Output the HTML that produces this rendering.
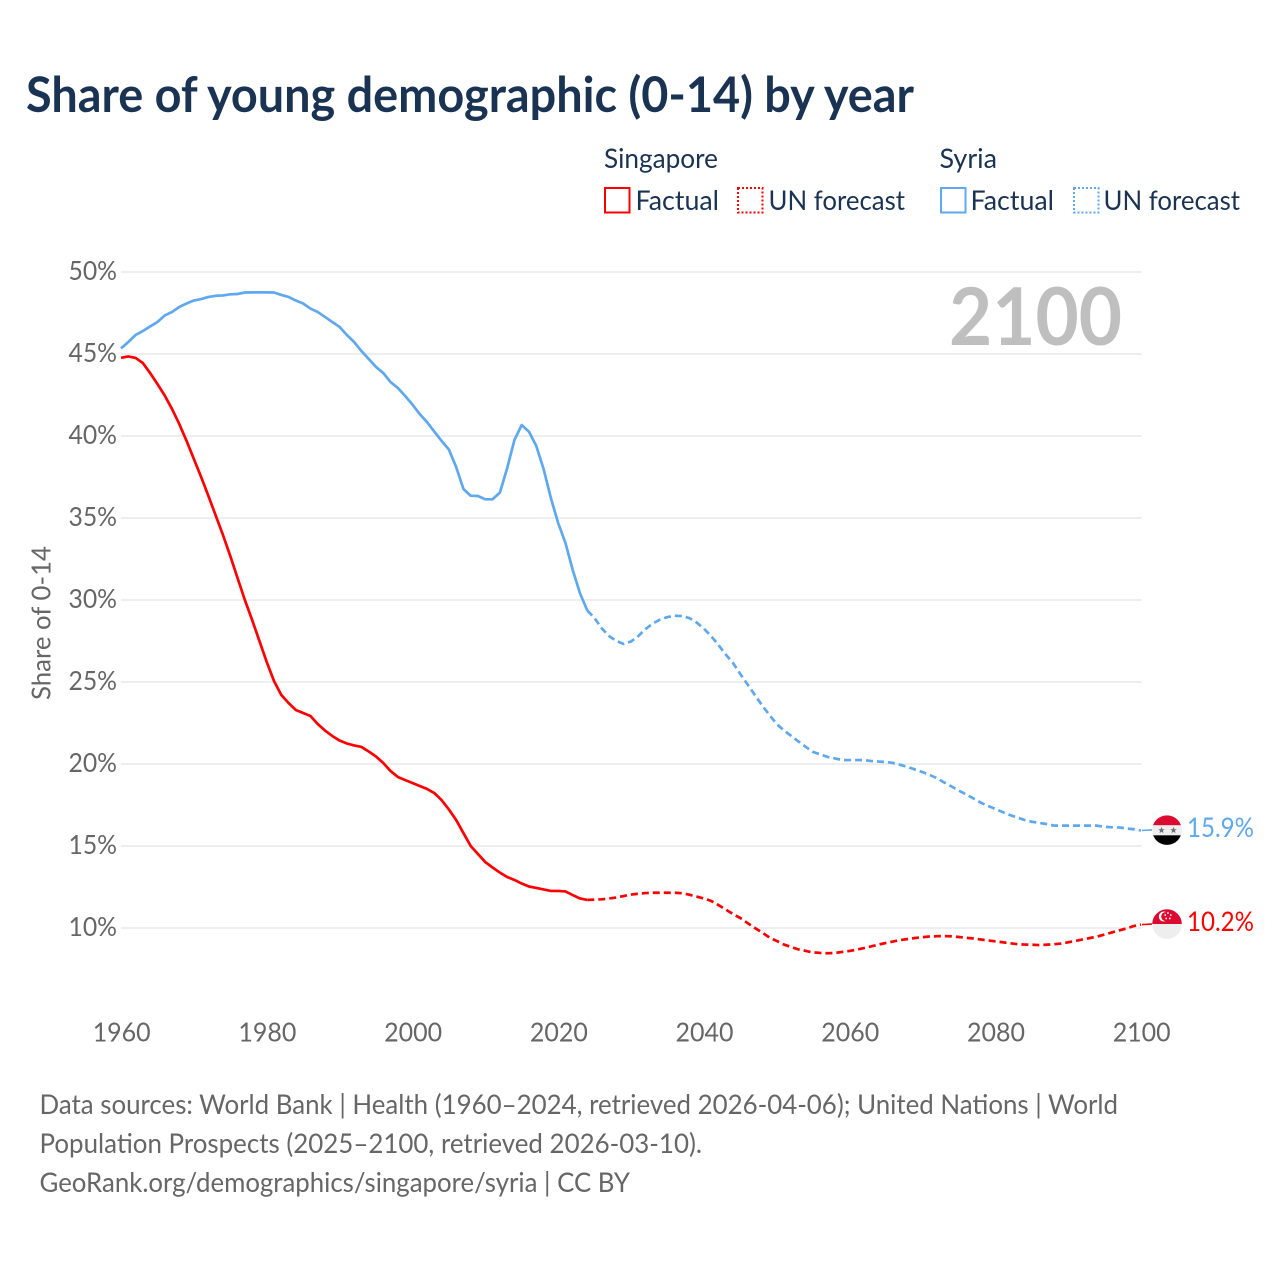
<!DOCTYPE html>
<html lang="en">
<head>
<meta charset="utf-8">
<title>Share of young demographic (0-14) by year</title>
<style>
html,body{margin:0;padding:0;background:#fff;}
svg{display:block;}
text{font-family:"Lato","Carlito","Liberation Sans",sans-serif;}
</style>
</head>
<body>
<svg id="chart" xmlns="http://www.w3.org/2000/svg" width="1280" height="1280" viewBox="0 0 1280 1280">
  <rect x="0" y="0" width="1280" height="1280" fill="#ffffff"/>
  <text x="26" y="112" font-size="48.5" font-weight="700" fill="#1a3353" textLength="888" lengthAdjust="spacingAndGlyphs">Share of young demographic (0-14) by year</text>

  <g font-size="27" fill="#1a3353">
    <text x="604" y="168" textLength="114" lengthAdjust="spacingAndGlyphs">Singapore</text>
    <rect x="605" y="188" width="24.5" height="24.5" fill="none" stroke="#ff0000" stroke-width="2"/>
    <text x="635.5" y="210" textLength="83.5" lengthAdjust="spacingAndGlyphs">Factual</text>
    <rect x="738" y="188" width="24.5" height="24.5" fill="none" stroke="#ff0000" stroke-width="2" stroke-dasharray="2 2"/>
    <text x="768.5" y="210" textLength="136.5" lengthAdjust="spacingAndGlyphs">UN forecast</text>
    <text x="939.5" y="168" textLength="57.5" lengthAdjust="spacingAndGlyphs">Syria</text>
    <rect x="941" y="188" width="24.5" height="24.5" fill="none" stroke="#5fa8ee" stroke-width="2"/>
    <text x="970.5" y="210" textLength="83.5" lengthAdjust="spacingAndGlyphs">Factual</text>
    <rect x="1074" y="188" width="24.5" height="24.5" fill="none" stroke="#5fa8ee" stroke-width="2" stroke-dasharray="2 2"/>
    <text x="1103.5" y="210" textLength="136.5" lengthAdjust="spacingAndGlyphs">UN forecast</text>
  </g>

  <g id="grid"></g>
  <g id="yticks"></g>
  <g id="xticks"></g>

  <text x="0" y="0" transform="translate(50.5,623) rotate(-90)" text-anchor="middle" font-size="26" fill="#666666" textLength="154" lengthAdjust="spacingAndGlyphs">Share of 0-14</text>
  <text x="949" y="345" font-size="80" font-weight="700" fill="#bfbfbf" textLength="173" lengthAdjust="spacingAndGlyphs">2100</text>

  <g id="series"></g>
  <g id="ends"></g>

  <g font-size="27" fill="#666666">
    <text x="39.5" y="1114" textLength="1078.5" lengthAdjust="spacingAndGlyphs">Data sources: World Bank | Health (1960–2024, retrieved 2026-04-06); United Nations | World</text>
    <text x="39.5" y="1153" textLength="662.5" lengthAdjust="spacingAndGlyphs">Population Prospects (2025–2100, retrieved 2026-03-10).</text>
    <text x="39.5" y="1192" textLength="590.5" lengthAdjust="spacingAndGlyphs">GeoRank.org/demographics/singapore/syria | CC BY</text>
  </g>
</svg>
<script>
const firstYear = 1960;
const lastFactualYear = 2024;
const yTickValues = [10, 15, 20, 25, 30, 35, 40, 45, 50];
const xTickValues = [1960, 1980, 2000, 2020, 2040, 2060, 2080, 2100];

// Yearly share of population aged 0-14 (%), 1960-2100.
const singaporeValues = [
44.77,44.85,44.76,44.45,43.84,43.17,42.47,41.65,40.73,39.70,
38.60,37.50,36.34,35.15,33.96,32.68,31.34,30.00,28.78,27.50,
26.22,25.06,24.21,23.72,23.29,23.11,22.93,22.44,22.04,21.71,
21.43,21.25,21.13,21.04,20.76,20.46,20.06,19.57,19.21,19.02,
18.84,18.66,18.48,18.23,17.80,17.23,16.59,15.79,15.00,14.51,
14.02,13.69,13.38,13.11,12.93,12.71,12.53,12.44,12.35,12.26,
12.26,12.23,12.01,11.80,11.71,11.73,11.75,11.80,11.86,11.95,
12.04,12.09,12.13,12.15,12.15,12.15,12.15,12.12,12.03,11.92,
11.80,11.65,11.40,11.13,10.85,10.61,10.30,10.00,9.73,9.42,
9.21,8.99,8.84,8.69,8.60,8.51,8.48,8.46,8.48,8.54,
8.60,8.68,8.78,8.88,8.99,9.09,9.18,9.27,9.33,9.39,
9.44,9.48,9.50,9.51,9.49,9.45,9.40,9.36,9.30,9.24,
9.19,9.13,9.07,9.02,8.99,8.98,8.96,8.98,9.01,9.05,
9.13,9.21,9.30,9.39,9.48,9.60,9.73,9.85,9.97,10.12,
10.21];

const syriaValues = [
45.34,45.73,46.16,46.40,46.68,46.95,47.35,47.56,47.87,48.08,
48.26,48.35,48.48,48.55,48.57,48.64,48.66,48.75,48.76,48.76,
48.76,48.75,48.60,48.48,48.26,48.08,47.77,47.56,47.26,46.95,
46.65,46.16,45.73,45.18,44.70,44.21,43.84,43.29,42.93,42.44,
41.92,41.34,40.85,40.27,39.70,39.18,38.11,36.77,36.36,36.34,
36.14,36.14,36.55,38.03,39.76,40.67,40.26,39.39,37.99,36.22,
34.70,33.48,31.83,30.41,29.36,28.90,28.26,27.80,27.50,27.32,
27.47,27.80,28.23,28.57,28.81,28.96,29.04,29.02,28.90,28.63,
28.26,27.80,27.26,26.68,26.16,25.49,24.85,24.21,23.57,22.99,
22.44,22.04,21.71,21.37,21.04,20.73,20.58,20.43,20.34,20.24,
20.24,20.24,20.24,20.18,20.15,20.12,20.06,19.94,19.82,19.66,
19.51,19.33,19.13,18.87,18.63,18.38,18.14,17.90,17.65,17.44,
17.26,17.07,16.89,16.74,16.59,16.48,16.41,16.34,16.25,16.24,
16.24,16.24,16.24,16.24,16.24,16.17,16.14,16.13,16.07,16.02,
15.95];

const SVG_NS = 'http://www.w3.org/2000/svg';
function xScale(year) { return 121 + (year - 1960) * (1020 / 140); }
function yScale(pct) { return 928 - (pct - 10) * 16.4; }
function make(tag, attrs, parent) {
  const el = document.createElementNS(SVG_NS, tag);
  for (const k in attrs) el.setAttribute(k, attrs[k]);
  parent.appendChild(el);
  return el;
}
function pointsFor(values, fromIdx, toIdx) {
  const pts = [];
  for (let i = fromIdx; i <= toIdx; i++) {
    pts.push(xScale(firstYear + i).toFixed(2) + ',' + yScale(values[i]).toFixed(2));
  }
  return pts.join(' ');
}

const gridG = document.getElementById('grid');
const yTicksG = document.getElementById('yticks');
const xTicksG = document.getElementById('xticks');
const seriesG = document.getElementById('series');
const endsG = document.getElementById('ends');

yTickValues.forEach(function (v) {
  const line = make('line', {x1: 121, x2: 1141.5, y1: yScale(v), y2: yScale(v), stroke: '#eeeeee', 'stroke-width': 2}, gridG);
  
  
  const label = make('text', {x: 117, y: yScale(v) + 8, 'text-anchor': 'end', 'font-size': 26, fill: '#666666', textLength: 48.5, lengthAdjust: 'spacingAndGlyphs'}, yTicksG);
  label.textContent = v + '%';
  
  
});

xTickValues.forEach(function (y) {
  const label = make('text', {x: xScale(y) + 0.7, y: 1041.5, 'text-anchor': 'middle', 'font-size': 26, fill: '#666666', textLength: 58, lengthAdjust: 'spacingAndGlyphs'}, xTicksG);
  label.textContent = String(y);
  
  
});

function drawSeries(key, values, color) {
  const splitIdx = lastFactualYear - firstYear;
  const lastIdx = values.length - 1;
  const factual = make('polyline', {points: pointsFor(values, 0, splitIdx), fill: 'none', stroke: color, 'stroke-width': 2.7, 'stroke-linejoin': 'round'}, seriesG);
  
  
  const forecast = make('polyline', {points: pointsFor(values, splitIdx, lastIdx), fill: 'none', stroke: color, 'stroke-width': 2.7, 'stroke-linejoin': 'round', 'stroke-dasharray': '7 4'}, seriesG);
  
  
  const endY = yScale(values[lastIdx]);
  const connector = make('line', {x1: xScale(firstYear + lastIdx) + 1, x2: 1152, y1: endY, y2: endY - 0.5, stroke: color, 'stroke-width': 1.6}, seriesG);
  
  
  const label = make('text', {x: 1187, y: endY + 6.5, 'font-size': 27, fill: color, textLength: 67, lengthAdjust: 'spacingAndGlyphs'}, endsG);
  label.textContent = values[lastIdx].toFixed(1) + '%';
  
  
  return endY;
}

function drawSyriaFlag(cy) {
  const g = make('g', {transform: 'translate(1167,' + cy + ')'}, endsG);
  
  
  const clip = make('clipPath', {id: 'clip-syria'}, g);
  make('circle', {cx: 0, cy: 0, r: 14.8}, clip);
  const inner = make('g', {'clip-path': 'url(#clip-syria)'}, g);
  make('rect', {x: -15, y: -15, width: 30, height: 10.2, fill: '#dc0a30'}, inner);
  make('rect', {x: -15, y: -4.8, width: 30, height: 10, fill: '#eeeeee'}, inner);
  make('rect', {x: -15, y: 5.2, width: 30, height: 10, fill: '#000000'}, inner);
  make('polygon', {points: '-5.5,-3.3 -4.6,-0.9 -2.3,-0.9 -4.1,0.6 -3.5,3 -5.5,1.6 -7.5,3 -6.9,0.6 -8.7,-0.9 -6.4,-0.9', fill: '#6e6e6e'}, inner);
  make('polygon', {points: '6.5,-3.3 7.4,-0.9 9.7,-0.9 7.9,0.6 8.5,3 6.5,1.6 4.5,3 5.1,0.6 3.3,-0.9 5.6,-0.9', fill: '#6e6e6e'}, inner);
}

function drawSingaporeFlag(cy) {
  const g = make('g', {transform: 'translate(1167,' + cy + ')'}, endsG);
  
  
  const clip = make('clipPath', {id: 'clip-sg'}, g);
  make('circle', {cx: 0, cy: 0, r: 14.8}, clip);
  const inner = make('g', {'clip-path': 'url(#clip-sg)'}, g);
  make('rect', {x: -15, y: -15, width: 30, height: 15, fill: '#dc0a30'}, inner);
  make('rect', {x: -15, y: 0, width: 30, height: 15, fill: '#eeeeee'}, inner);
  make('circle', {cx: -3.2, cy: -7.5, r: 5, fill: '#ffffff'}, inner);
  make('circle', {cx: -1.2, cy: -7.5, r: 4.6, fill: '#dc0a30'}, inner);
  [[1, -11], [3.8, -9], [2.8, -5.6], [-0.8, -5.6], [-1.8, -9]].forEach(function (p) {
    make('circle', {cx: p[0], cy: p[1], r: 0.9, fill: '#ffffff'}, inner);
  });
}

const sgEndY = drawSeries('singapore', singaporeValues, '#ff0000');
const syEndY = drawSeries('syria', syriaValues, '#5fa8ee');
drawSyriaFlag(syEndY - 0.3);
drawSingaporeFlag(sgEndY - 0.5);
</script>
</body>
</html>
